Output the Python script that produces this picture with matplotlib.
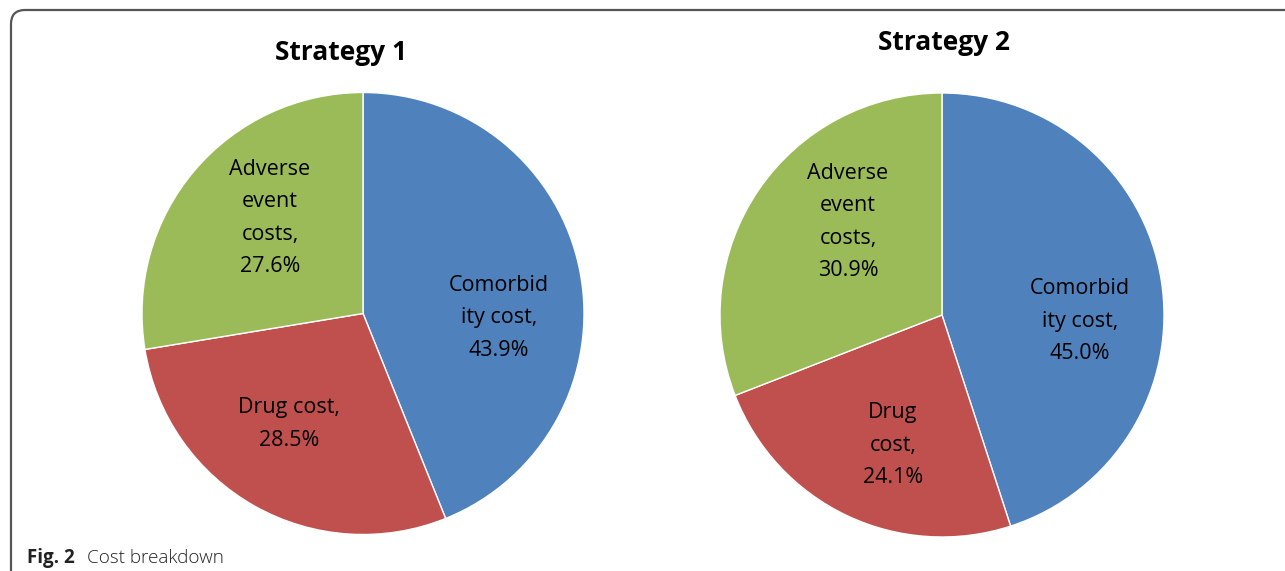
import matplotlib
matplotlib.use("Agg")
import matplotlib.pyplot as plt
from matplotlib.patches import FancyBboxPatch

# ---- data ----
categories = ["Comorbidity cost", "Drug cost", "Adverse event costs"]
strategy_titles = ["Strategy 1", "Strategy 2"]
strategy1_values = [43.9, 28.5, 27.6]
strategy2_values = [45.0, 24.1, 30.9]
strategy1_labels = ["Comorbid\nity cost,\n43.9%", "Drug cost,\n28.5%", "Adverse\nevent\ncosts,\n27.6%"]
strategy2_labels = ["Comorbid\nity cost,\n45.0%", "Drug\ncost,\n24.1%", "Adverse\nevent\ncosts,\n30.9%"]
caption_bold = "Fig. 2"
caption_text = "Cost breakdown"

colors = ["#4F81BD", "#C0504D", "#9BBB59"]

W, H = 1285, 571
fig = plt.figure(figsize=(W / 100, H / 100), dpi=100)
ax = fig.add_axes([0, 0, 1, 1])

FONT = ["Open Sans", "DejaVu Sans"]

def py(y):
    return H - y

pies = [
    dict(values=strategy1_values, labels=strategy1_labels, title=strategy_titles[0],
         center=(363, py(313.5)), radius=221, title_pos=(341, py(52)),
         label_pos=[(499, py(318)), (289, py(424)), (270, py(218))]),
    dict(values=strategy2_values, labels=strategy2_labels, title=strategy_titles[1],
         center=(942, py(315)), radius=222, title_pos=(944, py(43)),
         label_pos=[(1080, py(321)), (893, py(445)), (848, py(222))]),
]

for p in pies:
    ax.pie(p["values"], colors=colors, startangle=90, counterclock=False,
           center=p["center"], radius=p["radius"],
           wedgeprops=dict(edgecolor="white", linewidth=1.0))
    ax.text(p["title_pos"][0], p["title_pos"][1], p["title"], ha="center", va="center",
            fontsize=19, fontweight="bold", family=FONT, color="black")
    for lab, (x, y) in zip(p["labels"], p["label_pos"]):
        ax.text(x, y, lab, ha="center", va="center", fontsize=15.5, family=FONT,
                linespacing=1.72, color="black")

# border frame with rounded corner
frame = FancyBboxPatch((11, -60), W + 40, py(10) + 60,
                       boxstyle="round,pad=0,rounding_size=14",
                       facecolor="none", edgecolor="#555555", linewidth=1.6,
                       clip_on=False)
ax.add_patch(frame)

# caption
ax.text(27, py(558), caption_bold, ha="left", va="center", fontsize=13.5,
        fontweight="bold", family=FONT, color="#222222")
ax.text(87, py(558), caption_text, ha="left", va="center", fontsize=13.6,
        fontweight="light", family=FONT, color="#222222")

ax.set_xlim(0, W)
ax.set_ylim(0, H)
ax.set_aspect("auto")
ax.axis("off")

fig.savefig("out.png", dpi=100)
